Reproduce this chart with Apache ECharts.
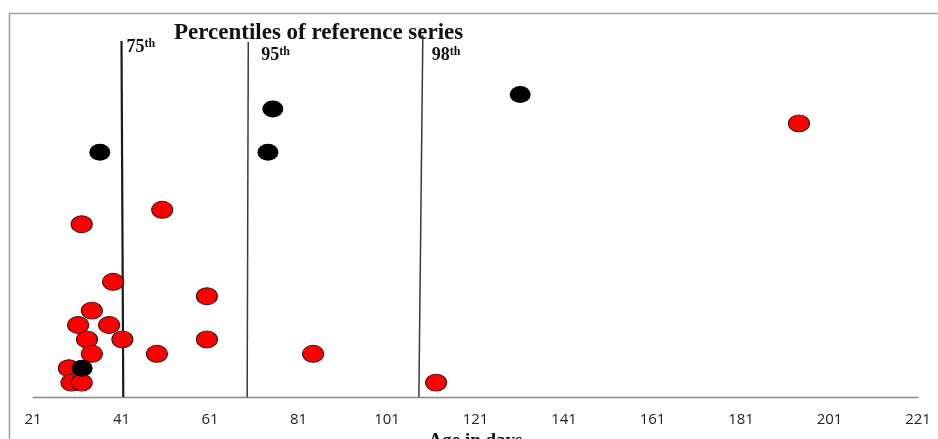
<!DOCTYPE html>
<html>
<head>
<meta charset="utf-8">
<script src="https://cdn.jsdelivr.net/npm/echarts@6/dist/echarts.min.js"></script>
<style>
html,body{margin:0;padding:0;background:#fff;}
#chart{width:938px;height:439px;}
</style>
</head>
<body>
<div id="chart"></div>
<script>
// ---- data ----
const xMin = 21, xMax = 221, xStep = 20;
const redAge   = [194.1, 50.2, 32.0, 39.1, 60.3, 34.3, 31.2, 38.2, 33.2, 41.2, 60.3, 34.3, 49.0, 84.3, 29.1, 29.7, 32.0, 112.1];
const redValue = [76,    52,   48,   32,   28,   24,   20,   20,   16,   16,   16,   12,   12,   12,   8,    4,    4,    4];
const blackAge   = [36.1, 75.2, 74.1, 131.1, 32.1];
const blackValue = [68,   80,   68,   84,    8];
const percentileNames     = ['75', '95', '98'];
const percentileAgeBottom = [41.4, 69.4, 108.2];
const percentileAgeTop    = [41.0, 69.65, 109.1];
const percentileTopValue  = [98.9, 98.6, 100.5];

const chart = echarts.init(document.getElementById('chart'), null, {renderer: 'canvas'});

const serif = '"Liberation Serif", "DejaVu Serif", serif';
const labelStyles = [
  {distance: 5, offset: [0, 6]},
  {distance: 13, offset: [0, 13]},
  {distance: 9, offset: [0, 20]}
];
const lineStyles = [
  {color: '#1a1a1a', width: 2.2},
  {color: '#3a3a3a', width: 1.5},
  {color: '#3a3a3a', width: 1.5}
];

const percentileSeries = percentileNames.map((n, i) => ({
  type: 'line',
  name: n + 'th',
  data: [[percentileAgeBottom[i], 0], [percentileAgeTop[i], percentileTopValue[i]]],
  showSymbol: false,
  symbol: 'none',
  silent: true,
  z: 1,
  lineStyle: {color: lineStyles[i].color, width: lineStyles[i].width},
  endLabel: {
    show: true,
    position: 'right',
    distance: labelStyles[i].distance,
    offset: labelStyles[i].offset,
    formatter: '{n|' + n + '}{s|th}',
    rich: {
      n: {fontFamily: serif, fontWeight: 'bold', fontSize: 18, color: '#111', lineHeight: 18, verticalAlign: 'bottom'},
      s: {fontFamily: serif, fontWeight: 'bold', fontSize: 12, color: '#111', lineHeight: 18, verticalAlign: 'top', padding: [0,0,7,0]}
    }
  }
}));

const option = {
  animation: false,
  backgroundColor: '#fff',
  title: {
    text: 'Percentiles of reference series',
    left: 169,
    top: 17,
    textStyle: {fontFamily: serif, fontWeight: 'bold', fontSize: 23, color: '#111'}
  },
  grid: {left: 33, right: 20, bottom: 42, top: 29.8, containLabel: false, outerBoundsMode: 'none'},
  xAxis: {
    type: 'value',
    min: xMin, max: xMax, interval: xStep,
    name: 'Age in days',
    nameLocation: 'middle',
    nameGap: 31,
    nameTextStyle: {fontFamily: serif, fontWeight: 'bold', fontSize: 19, color: '#111', verticalAlign: 'top'},
    axisLine: {show: true, lineStyle: {color: '#888', width: 1.3}},
    axisTick: {show: false},
    splitLine: {show: false},
    axisLabel: {margin: 15, fontFamily: '"Open Sans", "Noto Sans", sans-serif', fontSize: 15, color: '#222'}
  },
  yAxis: {
    type: 'value', min: 0, max: 102, show: false, splitLine: {show: false}
  },
  graphic: [{
    type: 'polyline',
    silent: true,
    shape: {points: [[9.5, 439], [9.5, 13.5], [938, 13.5]]},
    style: {stroke: '#a0a0a0', lineWidth: 1.6, fill: null}
  }],
  series: [
    ...percentileSeries,
    {
      type: 'scatter',
      name: 'red',
      z: 3,
      symbol: 'circle',
      symbolSize: [21, 17],
      itemStyle: {color: '#ff0000', borderColor: '#3a1010', borderWidth: 1, opacity: 1},
      data: redAge.map((a, i) => [a, redValue[i]])
    },
    {
      type: 'scatter',
      name: 'black',
      z: 4,
      symbol: 'circle',
      symbolSize: [21, 17],
      itemStyle: {color: '#000000', borderWidth: 0, opacity: 1},
      data: blackAge.map((a, i) => [a, blackValue[i]])
    }
  ]
};
chart.setOption(option);
</script>
</body>
</html>
